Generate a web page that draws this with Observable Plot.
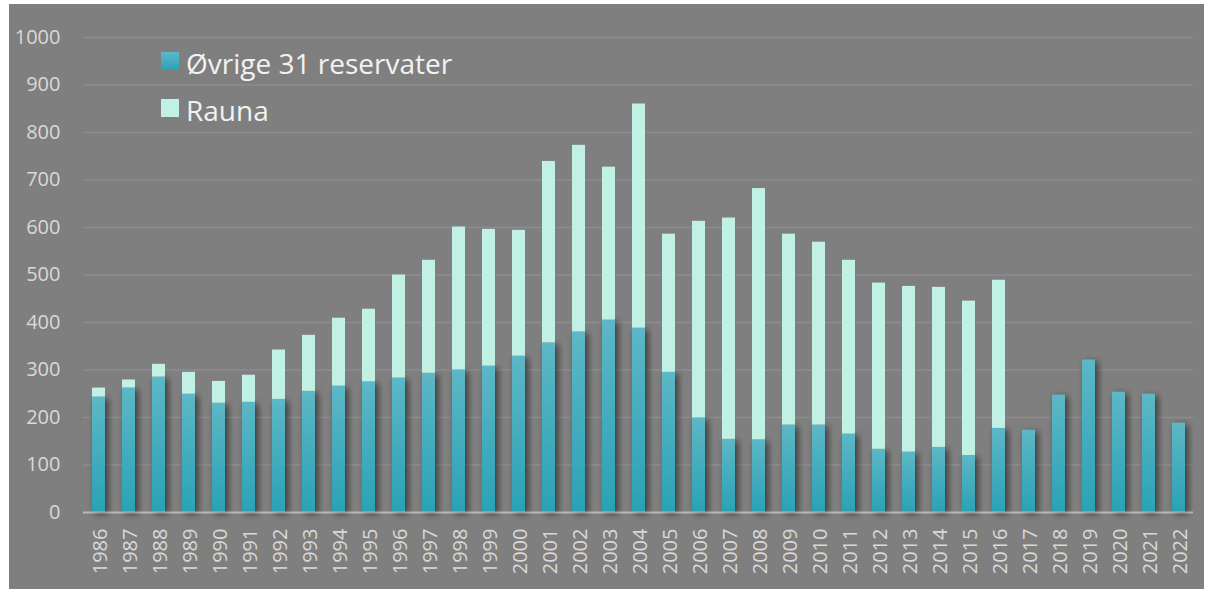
<!DOCTYPE html>
<html>
<head>
<meta charset="utf-8">
<script src="https://cdn.jsdelivr.net/npm/d3@7"></script>
<script src="https://cdn.jsdelivr.net/npm/@observablehq/plot@0.6"></script>
<style>
  html, body { margin: 0; padding: 0; background: #ffffff; }
  #wrap { position: absolute; left: 9px; top: 4px; width: 1195px; height: 585px; background: #7f7f7f; overflow: hidden; }
  #legend { position: absolute; left: 152px; top: 37px; font-family: "Open Sans", sans-serif; font-size: 28px; color: #f2f2f2; }
  .li { position: absolute; left: 0; white-space: nowrap; height: 36px; line-height: 36px; }
  .sw { display: inline-block; width: 18px; height: 18px; vertical-align: middle; margin-right: 7px; position: relative; top: -2px; }
  .txt { vertical-align: middle; }
</style>
</head>
<body>
<div id="wrap">
  <div id="chart"></div>
  <div id="legend"></div>
</div>
<script>
const years = [1986,1987,1988,1989,1990,1991,1992,1993,1994,1995,1996,1997,1998,1999,2000,2001,2002,2003,2004,2005,2006,2007,2008,2009,2010,2011,2012,2013,2014,2015,2016,2017,2018,2019,2020,2021,2022];
const ovrige = [243,262,285,249,230,232,238,255,266,275,283,293,300,308,329,357,380,405,388,295,199,154,153,184,184,165,133,127,137,120,177,173,247,321,253,249,188];
const rauna  = [19,17,27,46,46,57,104,118,143,153,217,238,301,288,265,382,393,322,472,291,414,466,529,402,385,366,350,349,337,325,312,0,0,0,0,0,0];
const seriesNames = ["Øvrige 31 reservater", "Rauna"];
const yTicks = [0,100,200,300,400,500,600,700,800,900,1000];

const rows = [];
years.forEach((y, i) => rows.push({year: String(y), series: seriesNames[0], value: ovrige[i]}));
years.forEach((y, i) => rows.push({year: String(y), series: seriesNames[1], value: rauna[i]}));

const chart = Plot.plot({
  width: 1195,
  height: 585,
  marginLeft: 74,
  marginRight: 11,
  marginTop: 33,
  marginBottom: 77,
  style: {background: "transparent", color: "#d9d9d9", fontSize: "20px", fontFamily: "'Open Sans', sans-serif"},
  x: {domain: years.map(String), paddingInner: 0.57, paddingOuter: 0.285, label: null},
  y: {domain: [0, 1000], label: null},
  color: {domain: seriesNames, range: ["url(#gOvr)", "#c0f1e4"]},
  marks: [
    Plot.gridY(yTicks, {stroke: "#8d8d8d", strokeOpacity: 1, strokeWidth: 1.5}),
    Plot.barY(rows, {x: "year", y: "value", fill: "series", order: seriesNames, inset: 0}),
    Plot.ruleY([0], {stroke: "#ffffff", strokeOpacity: 0.4, strokeWidth: 2}),
    Plot.axisY(yTicks, {tickSize: 0, tickPadding: 23, fill: "#d9d9d9", tickFormat: "d", label: null}),
    Plot.axisX({tickSize: 0, tickPadding: 16, tickRotate: -90, fill: "#d9d9d9", label: null, dx: 2})
  ]
});

const svg = d3.select(chart);
const defs = svg.insert("defs", ":first-child");
const grad = defs.append("linearGradient").attr("id", "gOvr").attr("x1", 0).attr("y1", 0).attr("x2", 0).attr("y2", 1);
grad.append("stop").attr("offset", "0%").attr("stop-color", "#5db7c6");
grad.append("stop").attr("offset", "100%").attr("stop-color", "#2aa2b5");
const filt = defs.append("filter").attr("id", "shadow").attr("x", "-60%").attr("y", "-10%").attr("width", "220%").attr("height", "130%");
filt.append("feDropShadow").attr("dx", 3).attr("dy", 2).attr("stdDeviation", 3.5).attr("flood-color", "#000").attr("flood-opacity", 0.55);
svg.selectAll("rect").filter(function() { return (this.getAttribute("fill") || "").startsWith("url(#gOvr"); }).attr("filter", "url(#shadow)");

document.getElementById("chart").appendChild(chart);

const legend = d3.select("#legend");
const swFills = ["linear-gradient(#5db9c9, #2aa2b5)", "#c0f1e4"];
seriesNames.forEach((name, i) => {
  const li = legend.append("div").attr("class", "li").style("top", (i * 47) + "px");
  li.append("span").attr("class", "sw").style("background", swFills[i]);
  li.append("span").attr("class", "txt").text(name);
});
</script>
</body>
</html>
